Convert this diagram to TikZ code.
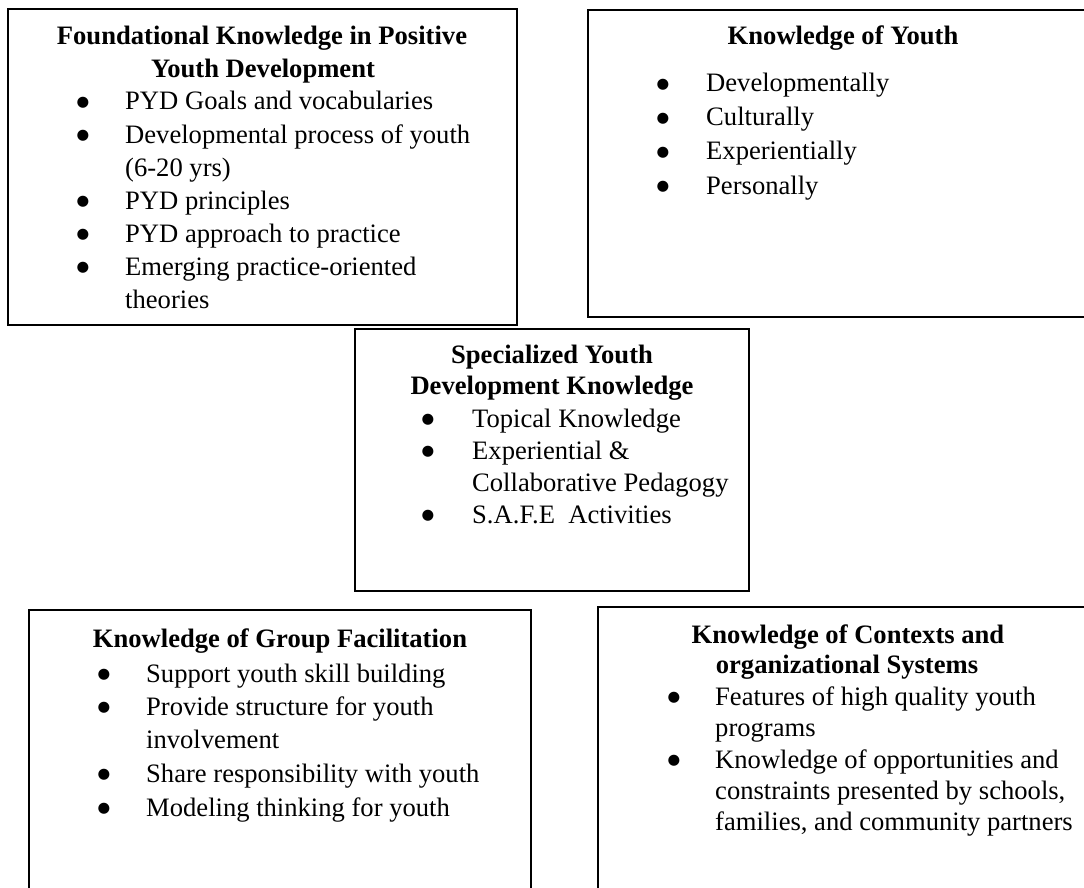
\documentclass[tikz,border=0pt]{standalone}
\usepackage{fontspec}
\setmainfont{Liberation Serif}
\newfontfamily\bulfont{DejaVu Sans}
\tikzset{
  box/.style={draw=black, line width=1.9pt, fill=none, inner sep=0pt},
  hd/.style={anchor=base, inner sep=0pt, font=\fontsize{26.6}{33}\selectfont\bfseries},
  itm/.style={anchor=base west, inner sep=0pt, font=\fontsize{26.6}{33}\selectfont},
  bul/.style={anchor=base, inner sep=0pt, yshift=3.5pt, font=\bulfont\fontsize{14.5}{16}\selectfont},
}
\begin{document}
\begin{tikzpicture}[x=1pt,y=-1pt]
\useasboundingbox (0,0) rectangle (1084,888);
\clip (0,0) rectangle (1084,888);
% boxes
\node[box, minimum width=509pt, minimum height=316pt] (B1) at (262.5,167) {};
\node[box, minimum width=510pt, minimum height=307pt] (B2) at (843,163.5) {};
\node[box, minimum width=394pt, minimum height=262pt] (B3) at (552,460) {};
\node[box, minimum width=502pt, minimum height=300pt] (B4) at (280,760) {};
\node[box, minimum width=500pt, minimum height=300pt] (B5) at (848,757) {};
% box 1
\node[hd] (b1h1) at (262,45) {Foundational Knowledge in Positive};
\node[hd] (b1h2) at (263,78) {Youth Development};
\node[bul] (b1d1) at (83,110) {●};
\node[itm] (b1i1) at (125,110) {PYD Goals and vocabularies};
\node[bul] (b1d2) at (83,143) {●};
\node[itm] (b1i2) at (125,143) {Developmental process of youth};
\node[itm] (b1i2b) at (125,176) {(6-20 yrs)};
\node[bul] (b1d3) at (83,209) {●};
\node[itm] (b1i3) at (125,209) {PYD principles};
\node[bul] (b1d4) at (83,242) {●};
\node[itm] (b1i4) at (125,242) {PYD approach to practice};
\node[bul] (b1d5) at (83,275) {●};
\node[itm] (b1i5) at (125,275) {Emerging practice-oriented};
\node[itm] (b1i5b) at (125,308) {theories};
% box 2
\node[hd] (b2h1) at (843,45) {Knowledge of Youth};
\node[bul] (b2d1) at (663,92) {●};
\node[itm] (b2i1) at (706,92) {Developmentally};
\node[bul] (b2d2) at (663,126) {●};
\node[itm] (b2i2) at (706,126) {Culturally};
\node[bul] (b2d3) at (663,160) {●};
\node[itm] (b2i3) at (706,160) {Experientially};
\node[bul] (b2d4) at (663,194) {●};
\node[itm] (b2i4) at (706,194) {Personally};
% box 3
\node[hd] (b3h1) at (552,363) {Specialized Youth};
\node[hd] (b3h2) at (552,394) {Development Knowledge};
\node[bul] (b3d1) at (428,427) {●};
\node[itm] (b3i1) at (472,427) {Topical Knowledge};
\node[bul] (b3d2) at (428,459) {●};
\node[itm] (b3i2) at (472,459) {Experiential \&};
\node[itm] (b3i2b) at (472,491) {Collaborative Pedagogy};
\node[bul] (b3d3) at (428,523) {●};
\node[itm] (b3i3) at (472,523) {S.A.F.E\ \ Activities};
% box 4
\node[hd] (b4h1) at (280,647) {Knowledge of Group Facilitation};
\node[bul] (b4d1) at (104,682) {●};
\node[itm] (b4i1) at (146,682) {Support youth skill building};
\node[bul] (b4d2) at (104,715) {●};
\node[itm] (b4i2) at (146,715) {Provide structure for youth};
\node[itm] (b4i2b) at (146,748) {involvement};
\node[bul] (b4d3) at (104,782) {●};
\node[itm] (b4i3) at (146,782) {Share responsibility with youth};
\node[bul] (b4d4) at (104,816) {●};
\node[itm] (b4i4) at (146,816) {Modeling thinking for youth};
% box 5
\node[hd] (b5h1) at (848,643) {Knowledge of Contexts and};
\node[hd] (b5h2) at (847,673) {organizational Systems};
\node[bul] (b5d1) at (674,705) {●};
\node[itm] (b5i1) at (715,705) {Features of high quality youth};
\node[itm] (b5i1b) at (715,736) {programs};
\node[bul] (b5d2) at (674,768) {●};
\node[itm] (b5i2) at (715,768) {Knowledge of opportunities and};
\node[itm] (b5i2b) at (715,799) {constraints presented by schools,};
\node[itm] (b5i2c) at (715,830) {families, and community partners};
\end{tikzpicture}
\end{document}
